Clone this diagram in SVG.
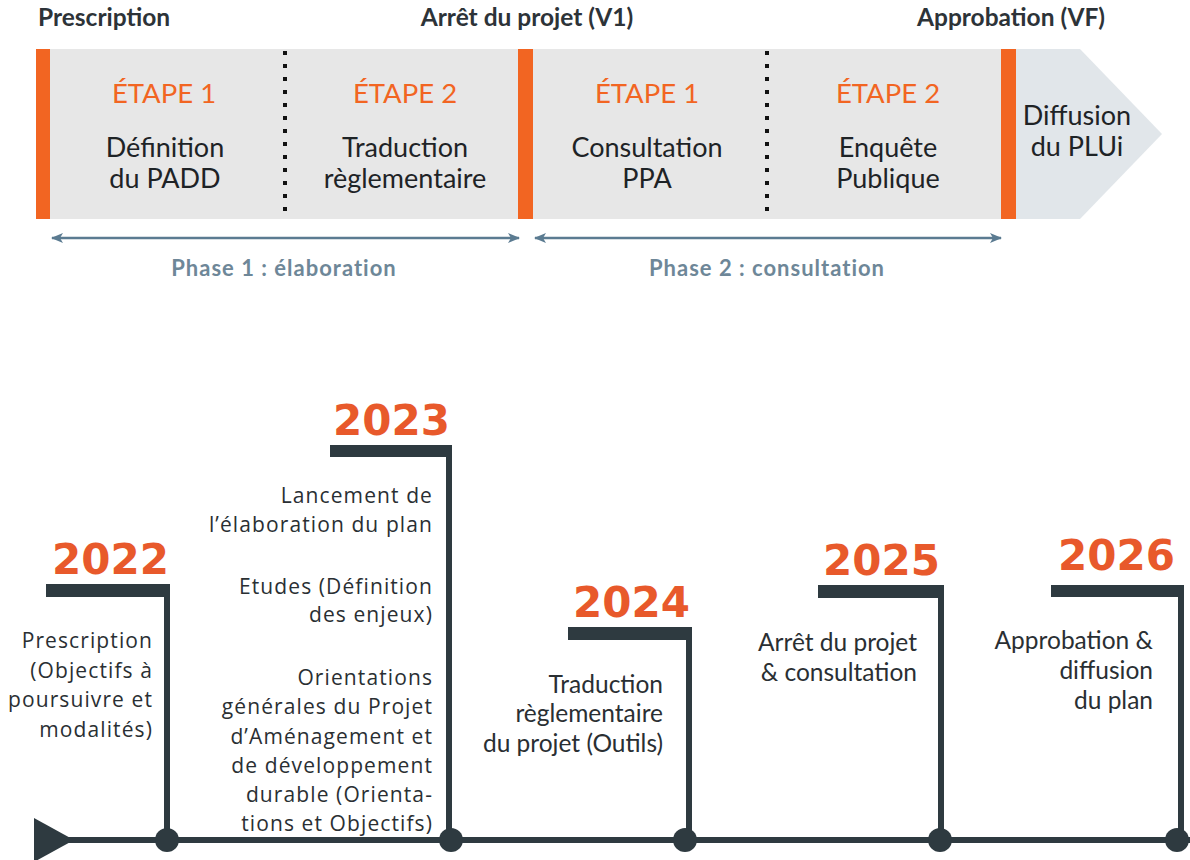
<svg xmlns="http://www.w3.org/2000/svg" width="1190" height="860" viewBox="0 0 1190 860">
<defs>
<style>
.hdr{font-family:Lato,"Open Sans",sans-serif;font-weight:700;font-size:24.5px;fill:#2d3338}
.step{font-family:Lato,sans-serif;font-size:27.5px;fill:#f26522;text-anchor:middle}
.body{font-family:Lato,sans-serif;font-size:27px;fill:#1e2326;text-anchor:middle}
.phase{font-family:Lato,sans-serif;font-weight:700;font-size:22px;letter-spacing:1px;fill:#6e8798;text-anchor:middle}
.year{font-family:"DejaVu Sans",sans-serif;font-weight:700;font-size:42px;fill:#e8592b}
.tl{font-family:"Open Sans",sans-serif;font-size:21px;letter-spacing:1.1px;fill:#2a2f33;text-anchor:end}
.tl2{font-family:Lato,sans-serif;font-size:24.5px;fill:#2a2f33;text-anchor:end}
.orange{fill:#f26522}
.dots{stroke:#111;stroke-width:4;stroke-dasharray:4 9}
.ph{stroke:#5b7b91;stroke-width:2.5;fill:none}
.dk{fill:#2e3a40}
</style>
<marker id="ah" viewBox="0 0 12 10" refX="11" refY="5" markerWidth="12" markerHeight="10" markerUnits="userSpaceOnUse" orient="auto-start-reverse">
<path d="M0,0 L12,5 L0,10 L3,5 Z" fill="#5b7b91"/>
</marker>
</defs>
<rect width="1190" height="860" fill="#fff"/>

<g id="band">
<rect x="50" y="49" width="951" height="170" fill="#e7e7e7"/>
<path d="M1016,49 L1080,49 L1162,134 L1080,219 L1016,219 Z" fill="#e1e6ea"/>
<rect class="orange" x="36" y="49" width="14" height="170"/>
<rect class="orange" x="518" y="49" width="15" height="170"/>
<rect class="orange" x="1001" y="49" width="15" height="170"/>
<line class="dots" x1="285" y1="51" x2="285" y2="219"/>
<line class="dots" x1="767" y1="51" x2="767" y2="219"/>
</g>

<g id="milestones">
<text class="hdr" x="38" y="26">Prescription</text>
<text class="hdr" x="527" y="26" text-anchor="middle">Arrêt du projet (V1)</text>
<text class="hdr" x="1105" y="26" text-anchor="end">Approbation (VF)</text>
</g>

<g id="p1e1">
<text class="step" x="164" y="103">ÉTAPE 1</text>
<text class="body" x="165" y="157">Définition</text>
<text class="body" x="165" y="188">du PADD</text>
</g>
<g id="p1e2">
<text class="step" x="405" y="103">ÉTAPE 2</text>
<text class="body" x="405" y="157">Traduction</text>
<text class="body" x="405" y="188">règlementaire</text>
</g>
<g id="p2e1">
<text class="step" x="647" y="103">ÉTAPE 1</text>
<text class="body" x="647" y="157">Consultation</text>
<text class="body" x="647" y="188">PPA</text>
</g>
<g id="p2e2">
<text class="step" x="888" y="103">ÉTAPE 2</text>
<text class="body" x="888" y="157">Enquête</text>
<text class="body" x="888" y="188">Publique</text>
</g>
<g id="diffusion">
<text class="body" x="1077" y="125">Diffusion</text>
<text class="body" x="1077" y="156">du PLUi</text>
</g>

<g id="connectors">
<line class="ph" x1="52" y1="238" x2="519" y2="238" marker-start="url(#ah)" marker-end="url(#ah)"/>
<line class="ph" x1="535" y1="238" x2="1001" y2="238" marker-start="url(#ah)" marker-end="url(#ah)"/>
</g>
<g id="phase1"><text class="phase" x="284" y="276">Phase 1 : élaboration</text></g>
<g id="phase2"><text class="phase" x="767" y="276">Phase 2 : consultation</text></g>

<g id="timeline">
<rect class="dk" x="60" y="837" width="1130" height="6"/>
<path class="dk" d="M34,818 L74,840 L34,862 Z"/>
</g>

<g id="y2022">
<rect class="dk" x="46" y="584" width="124" height="13"/>
<rect class="dk" x="164" y="584" width="6" height="256"/>
<circle class="dk" cx="167" cy="840" r="12"/>
<text class="year" x="52" y="574">2022</text>
<text class="tl" x="153" y="648">Prescription</text>
<text class="tl" x="153" y="678">(Objectifs à</text>
<text class="tl" x="153" y="707">poursuivre et</text>
<text class="tl" x="153" y="737">modalités)</text>
</g>

<g id="y2023">
<rect class="dk" x="330" y="445" width="122" height="12"/>
<rect class="dk" x="446" y="445" width="6" height="395"/>
<circle class="dk" cx="451" cy="840" r="12"/>
<text class="year" x="333" y="435">2023</text>
<text class="tl" x="433" y="503">Lancement de</text>
<text class="tl" x="433" y="532">l’élaboration du plan</text>
<text class="tl" x="433" y="594">Etudes (Définition</text>
<text class="tl" x="433" y="622">des enjeux)</text>
<text class="tl" x="433" y="685">Orientations</text>
<text class="tl" x="433" y="714">générales du Projet</text>
<text class="tl" x="433" y="744">d’Aménagement et</text>
<text class="tl" x="433" y="773">de développement</text>
<text class="tl" x="433" y="802">durable (Orienta-</text>
<text class="tl" x="433" y="831">tions et Objectifs)</text>
</g>

<g id="y2024">
<rect class="dk" x="568" y="627" width="124" height="13"/>
<rect class="dk" x="686" y="627" width="6" height="213"/>
<circle class="dk" cx="685" cy="840" r="12"/>
<text class="year" x="573" y="617">2024</text>
<text class="tl2" x="663" y="693">Traduction</text>
<text class="tl2" x="663" y="722">règlementaire</text>
<text class="tl2" x="663" y="752">du projet (Outils)</text>
</g>

<g id="y2025">
<rect class="dk" x="818" y="585" width="126" height="13"/>
<rect class="dk" x="938" y="585" width="6" height="255"/>
<circle class="dk" cx="940" cy="840" r="12"/>
<text class="year" x="823" y="575">2025</text>
<text class="tl2" x="917" y="651">Arrêt du projet</text>
<text class="tl2" x="917" y="681">&amp; consultation</text>
</g>

<g id="y2026">
<rect class="dk" x="1051" y="585" width="133" height="12"/>
<rect class="dk" x="1178" y="585" width="6" height="255"/>
<circle class="dk" cx="1177" cy="840" r="12"/>
<text class="year" x="1058" y="570">2026</text>
<text class="tl2" x="1153" y="649">Approbation &amp;</text>
<text class="tl2" x="1153" y="679">diffusion</text>
<text class="tl2" x="1153" y="709">du plan</text>
</g>
</svg>
